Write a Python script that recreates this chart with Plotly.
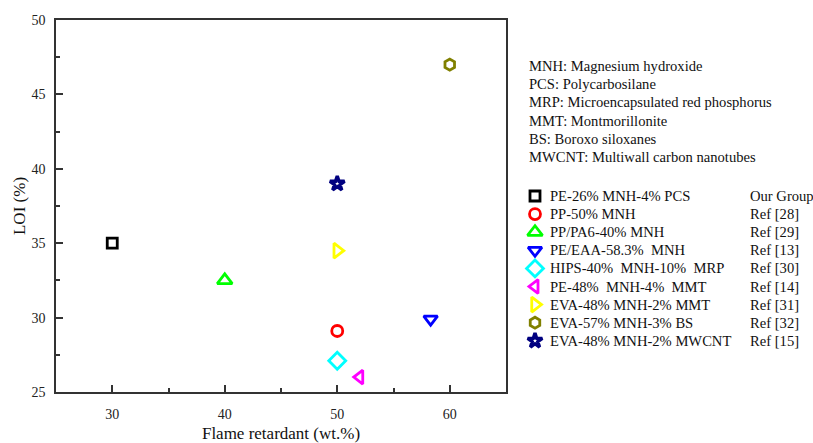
import plotly.graph_objects as go

names = ["PE-26% MNH-4% PCS", "PP-50% MNH", "PP/PA6-40% MNH", "PE/EAA-58.3%  MNH",
         "HIPS-40%  MNH-10%  MRP", "PE-48%  MNH-4%  MMT", "EVA-48% MNH-2% MMT",
         "EVA-57% MNH-3% BS", "EVA-48% MNH-2% MWCNT"]
refs = ["Our Group", "Ref [28]", "Ref [29]", "Ref [13]", "Ref [30]", "Ref [14]",
        "Ref [31]", "Ref [32]", "Ref [15]"]
flame = [30, 50, 40, 58.3, 50, 52, 50, 60, 50]
loi = [35, 29.1, 32.5, 29.9, 27.1, 26.0, 34.5, 47, 39]
symbols = ["square-open", "circle-open", "triangle-up-open", "triangle-down-open",
           "diamond-open", "triangle-left-open", "triangle-right-open", "hexagon-open", "star-open"]
colors = ["#000000", "#ff0000", "#00ff00", "#0000ff", "#00ffff", "#ff00ff",
          "#ffff00", "#808000", "#000080"]
notes = ["MNH: Magnesium hydroxide", "PCS: Polycarbosilane",
         "MRP: Microencapsulated red phosphorus", "MMT: Montmorillonite",
         "BS: Boroxo siloxanes", "MWCNT: Multiwall carbon nanotubes"]

FONT = "'Liberation Serif', 'Times New Roman', Times, serif"
W, H = 813, 443
L, R, T, B = 56, 506, 20, 392   # plot frame in px

# legend layout (pixel coordinates on an overlay axis)
LEG_X_MARK, LEG_X_TEXT, LEG_X_REF = 535, 548, 748
LEG_Y0, LEG_DY = 196, 18.1
NOTE_X, NOTE_Y0, NOTE_DY = 527, 66, 18.2

SIZES = {"square-open": 10, "circle-open": 11, "triangle-up-open": 13,
         "triangle-down-open": 12, "diamond-open": 13, "triangle-left-open": 12,
         "triangle-right-open": 13, "hexagon-open": 11, "star-open": 11}

def mline(s):
    return 3.4 if s == "star-open" else 2.8

fig = go.Figure()
for n, x, y, s, c in zip(names, flame, loi, symbols, colors):
    fig.add_trace(go.Scatter(
        x=[x], y=[y], mode="markers", name=n, showlegend=False,
        marker=dict(symbol=s, size=SIZES[s], color=c, line=dict(color=c, width=mline(s)))))

# manual legend on overlay axis x2/y2 (pixel space)
leg_y = [LEG_Y0 + LEG_DY * i for i in range(len(names))]
for i, (s, c) in enumerate(zip(symbols, colors)):
    fig.add_trace(go.Scatter(
        x=[LEG_X_MARK], y=[leg_y[i]], xaxis="x2", yaxis="y2", mode="markers",
        showlegend=False, hoverinfo="skip",
        marker=dict(symbol=s, size=SIZES[s], color=c, line=dict(color=c, width=mline(s)))))

ann = []
tf = dict(family=FONT, size=14.6, color="#111")
for i, t in enumerate(notes):
    ann.append(dict(text=t, x=NOTE_X, y=NOTE_Y0 + NOTE_DY * i, xref="x2", yref="y2",
                    xanchor="left", yanchor="middle", showarrow=False, font=tf))
for i, (n, r) in enumerate(zip(names, refs)):
    ann.append(dict(text=n, x=LEG_X_TEXT, y=leg_y[i], xref="x2", yref="y2",
                    xanchor="left", yanchor="middle", showarrow=False, font=tf))
    ann.append(dict(text=r, x=LEG_X_REF, y=leg_y[i], xref="x2", yref="y2",
                    xanchor="left", yanchor="middle", showarrow=False, font=tf))

PW = W - L
axis_common = dict(showline=True, linecolor="#333", linewidth=1.5, mirror=True,
                   ticks="inside", ticklen=7, tickwidth=1.5, tickcolor="#333",
                   showgrid=False, zeroline=False,
                   tickfont=dict(family=FONT, size=14, color="#222"))
fig.update_layout(
    width=W, height=H, margin=dict(l=L, r=0, t=T, b=H - B),
    paper_bgcolor="white", plot_bgcolor="rgba(0,0,0,0)",
    font=dict(family=FONT, size=14, color="#111"),
    xaxis=dict(domain=[0, (R - L) / PW], range=[25, 65], dtick=10, tick0=0,
               minor=dict(ticks="inside", ticklen=4, dtick=5, tickcolor="#333", tickwidth=1.5),
               title=dict(text="Flame retardant (wt.%)", font=dict(family=FONT, size=17), standoff=9),
               ticklabelstandoff=8, **axis_common),
    yaxis=dict(range=[25, 50], dtick=5, tick0=0,
               minor=dict(ticks="inside", ticklen=4, dtick=2.5, tickcolor="#333", tickwidth=1.5),
               title=dict(text="LOI (%)", font=dict(family=FONT, size=17), standoff=2),
               ticklabelstandoff=6, **axis_common),
    xaxis2=dict(domain=[0, 1], range=[L, W], visible=False, anchor="y2", fixedrange=True),
    yaxis2=dict(domain=[0, 1], range=[B, T], visible=False, anchor="x2", fixedrange=True),
    annotations=ann,
    showlegend=False,
)
fig.write_html("out.html")
